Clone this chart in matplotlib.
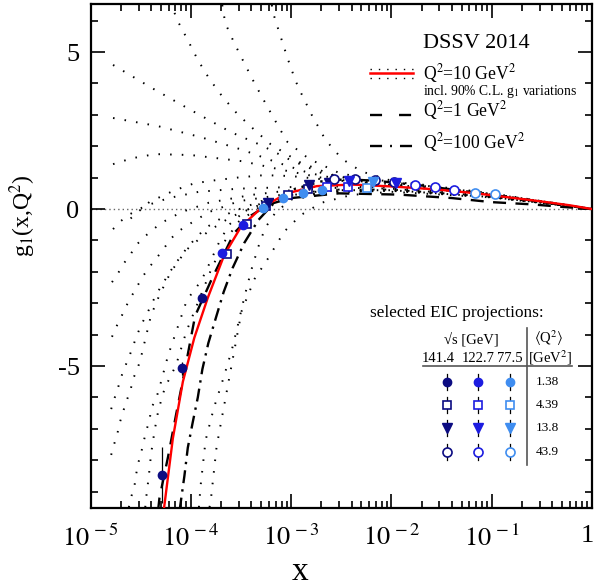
import matplotlib

matplotlib.use("Agg")
import matplotlib.pyplot as plt
from matplotlib.lines import Line2D
from matplotlib.ticker import LogLocator, MultipleLocator, NullFormatter
from matplotlib.transforms import ScaledTranslation

plt.rcParams["font.family"] = ["Liberation Serif", "DejaVu Serif"]
plt.rcParams["mathtext.fontset"] = "stix"

W, H = 597, 588

# ---------------- central DSSV curves ----------------
X_Q10 = [5.4e-5, 6.6e-5, 8.3e-5, 1.08e-4, 1.47e-4, 2.15e-4, 3.15e-4, 5e-4, 9e-4,
         1.8e-3, 4e-3, 1e-2, 2.7e-2, 7e-2, 0.15, 0.3, 0.6, 1.0]
G1_Q10 = [-9.5, -7.3, -5.5, -4.1, -2.83, -1.46, -0.57, 0.03, 0.5,
          0.73, 0.78, 0.72, 0.63, 0.5, 0.37, 0.25, 0.12, 0.0]

X_Q1 = [4.7e-5, 4.85e-5, 5.9e-5, 7.1e-5, 8.6e-5, 1.1e-4, 1.65e-4, 2.7e-4, 4e-4,
        6e-4, 1e-3, 3e-3, 1.2e-2, 4e-2, 0.1, 0.25, 0.5, 1.0]
G1_Q1 = [-9.6, -9.2, -7.9, -6.55, -5.2, -3.4, -2.16, -0.76, -0.2,
         0.15, 0.35, 0.5, 0.46, 0.35, 0.22, 0.15, 0.07, 0.0]

X_Q100 = [7.7e-5, 8.6e-5, 9.3e-5, 1.04e-4, 1.17e-4, 1.3e-4, 1.49e-4, 1.77e-4, 2.12e-4,
          2.6e-4, 3.4e-4, 4.7e-4, 7e-4, 1.1e-3, 2e-3, 3.5e-3, 7e-3, 2e-2, 6e-2,
          0.15, 0.35, 0.7, 1.0]
G1_Q100 = [-9.6, -8.5, -7.6, -6.8, -6.0, -5.1, -4.27, -3.47, -2.64,
           -1.88, -1.08, -0.35, 0.25, 0.65, 0.88, 0.95, 0.9, 0.75, 0.55,
           0.38, 0.2, 0.07, 0.0]

# ---------------- 90% C.L. variations at Q^2 = 10 (dotted) ----------------
VAR_A_X = [6.3e-5, 7.2e-5, 9.3e-5, 1.17e-4, 1.53e-4, 2.07e-4, 2.9e-4, 4.3e-4, 6.2e-4,
           1.2e-3, 2.5e-3, 5e-3, 1e-2, 0.1, 0.4, 1.0]
VAR_A_Y = [6.6, 6.05, 5.38, 4.75, 4.14, 3.57, 3.03, 2.52, 2.07,
           1.5, 1.1, 0.92, 0.85, 0.48, 0.2, 0.0]
VAR_B_X = [2.05e-4, 2.2e-4, 2.7e-4, 3.4e-4, 4.3e-4, 5.8e-4, 7.8e-4, 9.2e-4, 1.5e-3,
           3e-3, 6e-3, 1.2e-2, 0.1, 0.4, 1.0]
VAR_B_Y = [6.5, 5.92, 5.29, 4.65, 4.01, 3.25, 2.52, 2.13, 1.6,
           1.15, 0.95, 0.85, 0.48, 0.2, 0.0]
VAR_C_X = [6.4e-4, 6.7e-4, 7.3e-4, 9.2e-4, 1.1e-3, 1.2e-3, 1.6e-3, 2.2e-3, 3.2e-3,
           5e-3, 1e-2, 0.1, 0.4, 1.0]
VAR_C_Y = [6.5, 6.18, 5.8, 4.8, 4.1, 3.82, 3.0, 2.2, 1.6,
           1.2, 0.9, 0.5, 0.2, 0.0]
VAR_D_X = [1.67e-5, 4.1e-5, 1e-4, 2.5e-4, 4.95e-4, 1e-3, 2e-3, 4e-3, 1e-2, 0.1, 0.4, 1.0]
VAR_D_Y = [4.59, 3.85, 3.15, 2.45, 2.04, 1.55, 1.15, 0.95, 0.8, 0.47, 0.2, 0.0]
VAR_E_X = [1.67e-5, 4.7e-5, 1.25e-4, 3.3e-4, 7e-4, 1.5e-3, 3e-3, 8e-3, 0.1, 0.4, 1.0]
VAR_E_Y = [2.9, 2.64, 2.29, 1.88, 1.5, 1.15, 0.95, 0.82, 0.46, 0.19, 0.0]
VAR_F_X = [1.67e-5, 2.6e-5, 4.4e-5, 1e-4, 3.3e-4, 8e-4, 2e-3, 5e-3, 0.1, 0.4, 1.0]
VAR_F_Y = [1.43, 1.62, 1.75, 1.72, 1.52, 1.25, 1.0, 0.85, 0.46, 0.19, 0.0]
VAR_G_X = [2.5e-5, 3.87e-5, 5.45e-5, 6.9e-5, 1.08e-4, 1.77e-4, 3.06e-4, 5.4e-4, 1e-3,
           2e-3, 5e-3, 0.1, 0.4, 1.0]
VAR_G_Y = [-0.3, 0.23, 0.45, 0.6, 0.82, 0.92, 1.01, 1.08, 1.05,
           0.95, 0.85, 0.45, 0.19, 0.0]

VAR_H_X = [1.67e-5, 2.0e-5, 2.44e-5, 3.5e-5, 6e-5, 1.2e-4, 3e-4, 1e-3, 3e-3, 1e-2,
           0.1, 0.4, 1.0]
VAR_H_Y = [-0.64, -0.38, -0.17, 0.1, 0.35, 0.55, 0.65, 0.7, 0.72, 0.68,
           0.42, 0.18, 0.0]
VAR_I_X = [1.63e-5, 1.87e-5, 2.14e-5, 2.5e-5, 2.84e-5, 3.44e-5, 5e-5, 8e-5, 1.5e-4,
           4e-4, 1e-3, 3e-3, 1e-2, 0.1, 0.4, 1.0]
VAR_I_Y = [-2.33, -2.05, -1.73, -1.44, -1.15, -0.88, -0.45, -0.1, 0.2,
           0.45, 0.6, 0.68, 0.65, 0.4, 0.17, 0.0]
VAR_J_X = [1.63e-5, 1.8e-5, 2.02e-5, 2.26e-5, 2.54e-5, 2.9e-5, 3.3e-5, 3.87e-5, 4.5e-5,
           5.25e-5, 6.1e-5, 7.4e-5, 9.3e-5, 1.5e-4, 3e-4, 1e-3, 3e-3, 1e-2, 0.1, 0.4, 1.0]
VAR_J_Y = [-4.07, -3.75, -3.43, -3.09, -2.79, -2.47, -2.15, -1.84, -1.57,
           -1.31, -0.99, -0.72, -0.51, -0.1, 0.25, 0.5, 0.62, 0.62, 0.4, 0.17, 0.0]
VAR_K_X = [1.6e-5, 1.73e-5, 1.87e-5, 2.0e-5, 2.2e-5, 2.44e-5, 2.9e-5, 3.19e-5, 3.66e-5,
           4.5e-5, 5.25e-5, 5.9e-5, 6.85e-5, 9.3e-5, 1.4e-4, 2.5e-4, 5e-4, 1.2e-3,
           3e-3, 1e-2, 0.1, 0.4, 1.0]
VAR_K_Y = [-6.37, -6.02, -5.7, -5.37, -5.02, -4.67, -4.01, -3.69, -3.32,
           -2.72, -2.37, -2.1, -1.78, -1.2, -0.6, -0.1, 0.25, 0.48,
           0.6, 0.6, 0.38, 0.16, 0.0]
VAR_L_X = [1.6e-5, 1.7e-5, 1.84e-5, 1.94e-5, 2.1e-5, 2.26e-5, 2.5e-5, 2.64e-5, 2.9e-5,
           3.14e-5, 4e-5, 4.85e-5, 6.3e-5, 9e-5, 1.5e-4, 2.5e-4, 5e-4, 1.2e-3,
           3e-3, 1e-2, 0.1, 0.4, 1.0]
VAR_L_Y = [-7.83, -7.52, -7.17, -6.83, -6.46, -6.14, -5.76, -5.41, -5.13,
           -4.78, -3.38, -2.74, -2.0, -1.3, -0.7, -0.25, 0.15, 0.42,
           0.55, 0.58, 0.37, 0.16, 0.0]
VAR_M_X = [2.4e-5, 2.54e-5, 2.74e-5, 2.84e-5, 2.96e-5, 3.19e-5, 3.57e-5, 3.87e-5, 4.0e-5,
           4.5e-5, 4.85e-5, 5.9e-5, 7.8e-5, 9.1e-5, 1.26e-4, 1.4e-4, 1.92e-4, 2.4e-4,
           3.5e-4, 6e-4, 1.2e-3, 3e-3, 1e-2, 0.1, 0.4, 1.0]
VAR_M_Y = [-9.5, -9.16, -8.79, -8.45, -8.12, -7.75, -7.07, -6.72, -6.35,
           -6.03, -5.69, -4.67, -3.53, -2.9, -2.29, -2.0, -1.04, -0.5,
           -0.05, 0.3, 0.5, 0.62, 0.62, 0.39, 0.16, 0.0]
VAR_N_X = [3.5e-5, 3.57e-5, 3.8e-5, 4.0e-5, 4.33e-5, 4.67e-5, 5.1e-5, 5.5e-5, 7.1e-5,
           9e-5, 1.2e-4, 1.6e-4, 2.2e-4, 3e-4, 5e-4, 1e-3, 3e-3, 1e-2, 0.1, 0.4, 1.0]
VAR_N_Y = [-9.5, -9.21, -8.5, -7.8, -7.07, -6.5, -6.03, -5.69, -4.97,
           -3.9, -2.9, -1.9, -1.0, -0.4, 0.1, 0.4, 0.58, 0.6, 0.38, 0.16, 0.0]
VAR_O_X = [1.2e-4, 1.25e-4, 1.4e-4, 1.69e-4, 2.1e-4, 2.55e-4, 2.94e-4, 3.4e-4, 4e-4,
           4.7e-4, 5.5e-4, 7e-4, 1e-3, 3e-3, 1e-2, 0.1, 0.4, 1.0]
VAR_O_Y = [-9.5, -8.79, -7.36, -6.34, -5.4, -4.5, -3.69, -2.82, -1.94,
           -1.2, -0.6, -0.1, 0.3, 0.55, 0.6, 0.38, 0.16, 0.0]
VAR_P_X = [1.53e-4, 1.57e-4, 1.8e-4, 1.98e-4, 2.5e-4, 3.2e-4, 4.3e-4, 5.8e-4, 8.5e-4,
           1.25e-3, 2e-3, 4e-3, 1e-2, 0.1, 0.4, 1.0]
VAR_P_Y = [-9.5, -9.33, -7.58, -6.85, -5.1, -3.25, -2.23, -1.6, -0.72,
           -0.19, 0.2, 0.45, 0.55, 0.37, 0.16, 0.0]

VARIATIONS = [(VAR_A_X, VAR_A_Y), (VAR_B_X, VAR_B_Y), (VAR_C_X, VAR_C_Y),
              (VAR_D_X, VAR_D_Y), (VAR_E_X, VAR_E_Y), (VAR_F_X, VAR_F_Y),
              (VAR_G_X, VAR_G_Y), (VAR_H_X, VAR_H_Y), (VAR_I_X, VAR_I_Y),
              (VAR_J_X, VAR_J_Y), (VAR_K_X, VAR_K_Y), (VAR_L_X, VAR_L_Y),
              (VAR_M_X, VAR_M_Y), (VAR_N_X, VAR_N_Y), (VAR_O_X, VAR_O_Y),
              (VAR_P_X, VAR_P_Y)]

# ---------------- EIC pseudo-data ----------------
SQRT_S = ["141.4", "122.7", "77.5"]
Q2_BINS = ["1.38", "4.39", "13.8", "43.9"]
COLORS = ["#0c0c82", "#1c1ce0", "#3f8df0"]

# <Q^2> = 1.38 (filled circles), one list per sqrt(s)
C138_X = [[5.2e-5, 8.1e-5, 1.29e-4], [2.03e-4, 3.27e-4], [5.2e-4, 8.2e-4, 1.3e-3, 2.05e-3]]
C138_Y = [[-8.47, -5.07, -2.83], [-1.4, -0.51], [0.03, 0.35, 0.5, 0.6]]
C138_E = [[0.9, 0.2, 0.1], [0.08, 0.05], [0.05, 0.05, 0.05, 0.05]]
# <Q^2> = 4.39 (open squares)
C439_X = [[2.27e-4, 3.6e-4, 5.6e-4, 9.2e-4, 1.46e-3], [2.3e-3, 3.65e-3], [5.7e-3]]
C439_Y = [[-1.43, -0.48, 0.1, 0.45, 0.63], [0.7, 0.7], [0.67]]
# <Q^2> = 13.8 (filled down-triangles)
C138B_X = [[5.9e-4, 1.5e-3, 2.4e-3], [3.8e-3, 1.1e-2], [6.5e-3]]
C138B_Y = [[0.18, 0.78, 0.83], [0.88, 0.82], [0.85]]
# <Q^2> = 43.9 (open circles)
C439B_X = [[2.7e-3, 4.3e-3, 6.8e-3, 1.07e-2], [1.7e-2, 2.7e-2, 4.2e-2], [6.8e-2, 0.108]]
C439B_Y = [[0.97, 0.95, 0.92, 0.86], [0.76, 0.7, 0.6], [0.51, 0.48]]

X_TICKS = [1e-5, 1e-4, 1e-3, 1e-2, 1e-1, 1.0]
X_TICKLABELS = [r"$10^{\,-5}$", r"$10^{\,-4}$", r"$10^{\,-3}$", r"$10^{\,-2}$", r"$10^{\,-1}$", "1"]
Y_TICKS = [-5, 0, 5]
Y_TICKLABELS = ["-5", "0", "5"]


def fx(px):
    return px / W


def fy(py):
    return 1 - py / H


def marker_style(kind, color):
    if kind == "circle":
        return dict(marker="o", ms=6, mfc=color, mec=color)
    if kind == "square":
        return dict(marker="s", ms=6, mfc="white", mec=color, mew=1.2)
    if kind == "tri":
        return dict(marker="v", ms=6.5, mfc=color, mec=color)
    return dict(marker="o", ms=6.5, mfc="white", mec=color, mew=1.2)


fig = plt.figure(figsize=(W / 100, H / 100), dpi=100)
ax = fig.add_axes([fx(90.7), fy(508), (592 - 90.7) / W, (508 - 4) / H])
ax.set_xscale("log")
ax.set_xlim(1e-5, 1)
ax.set_ylim(-9.52, 6.53)

ax.axhline(0, color="#666666", lw=1.0, linestyle=(0, (1, 2.2)), zorder=1)

dot_style = dict(color="black", lw=1.4, linestyle=(0, (0.8, 5.2)), zorder=2)
for vx, vy in VARIATIONS:
    ax.plot(vx, vy, **dot_style)

dash_q1 = (0, (5.5, 4))
dashdot_q100 = (0, (5.5, 2.6, 1.0, 2.6))
ax.plot(X_Q1, G1_Q1, color="black", lw=1.7, linestyle=dash_q1, zorder=3)
ax.plot(X_Q100, G1_Q100, color="black", lw=1.7, linestyle=dashdot_q100, zorder=3)
ax.plot(X_Q10, G1_Q10, color="red", lw=1.7, zorder=4)

# EIC projections
for j, c in enumerate(COLORS):
    ax.errorbar(C138_X[j], C138_Y[j], yerr=C138_E[j], linestyle="none", ecolor="black",
                elinewidth=0.9, zorder=5, **marker_style("circle", c))
    ax.errorbar(C439_X[j], C439_Y[j], yerr=0.05, linestyle="none", ecolor="black",
                elinewidth=0.9, zorder=5, **marker_style("square", c))
    ax.errorbar(C138B_X[j], C138B_Y[j], yerr=0.05, linestyle="none", ecolor="black",
                elinewidth=0.9, zorder=5, **marker_style("tri", c))
    ax.errorbar(C439B_X[j], C439B_Y[j], yerr=0.05, linestyle="none", ecolor="black",
                elinewidth=0.9, zorder=5, **marker_style("ocircle", c))

# axes cosmetics
ax.set_xticks(X_TICKS)
ax.set_xticklabels(X_TICKLABELS)
ax.xaxis.set_minor_locator(LogLocator(base=10, subs=range(2, 10), numticks=20))
ax.xaxis.set_minor_formatter(NullFormatter())
ax.set_yticks(Y_TICKS)
ax.set_yticklabels(Y_TICKLABELS)
ax.yaxis.set_minor_locator(MultipleLocator(1))
ax.tick_params(which="both", direction="in", top=True, right=True, width=1.2)
ax.tick_params(which="major", length=10, labelsize=19)
ax.tick_params(axis="x", which="major", pad=12)
ax.tick_params(axis="y", which="major", pad=8)
ax.tick_params(which="minor", length=5)
for sp in ax.spines.values():
    sp.set_linewidth(1.6)

# keep the "1" at the right end inside the canvas
last = ax.get_xticklabels()[-1]
last.set_transform(last.get_transform() + ScaledTranslation(-0.05, 0, fig.dpi_scale_trans))

ax.set_ylabel(r"g$_1$(x,Q$^2$)", fontsize=17)
ax.yaxis.set_label_coords(-0.105, 0.58)
ax.set_xlabel("x", fontsize=24)
ax.xaxis.set_label_coords(0.418, -0.096)

# ---------------- legend (drawn by hand) ----------------
fig.text(fx(423), fy(43), "DSSV 2014", fontsize=16, va="center")
fig.add_artist(Line2D([fx(370), fx(413)], [fy(73)] * 2, color="red", lw=1.8))
for py in (68.5, 78):
    fig.add_artist(Line2D([fx(370), fx(413)], [fy(py)] * 2, color="black", lw=1.0,
                          linestyle=(0, (1, 5))))
fig.text(fx(423), fy(74), r"Q$^2$=10 GeV$^2$", fontsize=12.7, va="center")
fig.text(fx(423), fy(92), r"incl. 90% C.L. g$_1$ variations", fontsize=9.8,
         va="center", ha="left")
fig.add_artist(Line2D([fx(370), fx(413)], [fy(115)] * 2, color="black", lw=1.7,
                      linestyle=(0, (5.1, 7.2))))
fig.text(fx(423), fy(111), r"Q$^2$=1 GeV$^2$", fontsize=12.7, va="center")
fig.add_artist(Line2D([fx(370), fx(413)], [fy(146)] * 2, color="black", lw=1.7,
                      linestyle=(0, (5.1, 3.4, 0.8, 3.4))))
fig.text(fx(423), fy(143), r"Q$^2$=100 GeV$^2$", fontsize=12.7, va="center")

# ---------------- EIC table ----------------
fig.text(fx(370), fy(313), "selected EIC projections:", fontsize=12.4, va="center")
fig.text(fx(471), fy(339), "\u221as [GeV]", fontsize=10.5, va="center", ha="center")
fig.text(fx(549), fy(338), r"$\langle$Q$^2\rangle$", fontsize=10.5, va="center", ha="center")
col_px = [447, 478, 510]
label_px = [438, 478, 510]
for lbl, px in zip(SQRT_S, label_px):
    fig.text(fx(px), fy(358), lbl, fontsize=10.5, va="center", ha="center")
fig.text(fx(550), fy(358), r"[GeV$^2$]", fontsize=10.5, va="center", ha="center")
fig.add_artist(Line2D([fx(423), fx(572)], [fy(366)] * 2, color="#555555", lw=1.2))
fig.add_artist(Line2D([fx(527), fx(527)], [fy(328), fy(465)], color="#555555", lw=1.2))

row_py = [382, 405, 428, 452]
kinds = ["circle", "square", "tri", "ocircle"]
for kind, py, q2 in zip(kinds, row_py, Q2_BINS):
    fig.text(fx(547), fy(py), q2, fontsize=9.5, va="center", ha="center")
    for px, c in zip(col_px, COLORS):
        fig.add_artist(Line2D([fx(px)] * 2, [fy(py - 8), fy(py + 8)], color="black", lw=0.9))
        fig.add_artist(Line2D([fx(px)], [fy(py)], linestyle="none", **marker_style(kind, c)))

fig.savefig("out.png", dpi=100)
